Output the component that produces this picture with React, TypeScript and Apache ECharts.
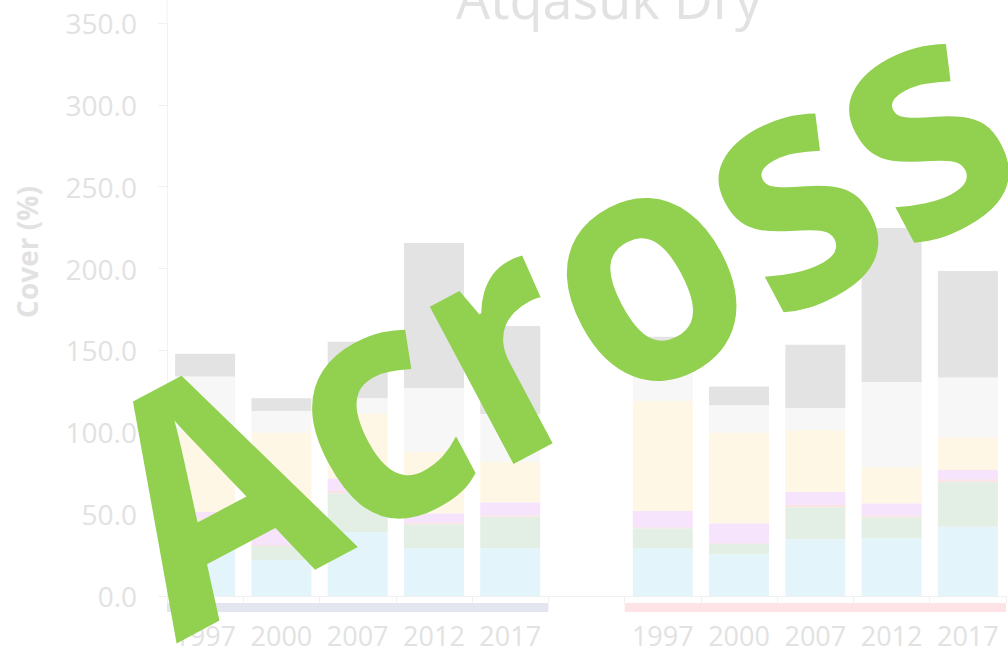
import React, { useEffect, useRef } from "react";
import * as echarts from "echarts";

const categories = ["1997", "2000", "2007", "2012", "2017", "", "1997", "2000", "2007", "2012", "2017"];

const seriesNames = ["Graminoid", "Forb", "Deciduous Shrub", "Evergreen Shrub", "Moss", "Lichen", "Litter"];
const blueVals = [30, 22, 38.9, 29.1, 29.1, null, 29.1, 25.5, 34.6, 35.2, 42.3];
const greenVals = [16.5, 8.5, 23.8, 14.7, 19.3, null, 12.3, 6.2, 19.6, 12.9, 27.5];
const redVals = [1, 0.7, 1.5, 1, 1, null, 0.6, 0.5, 1.4, 1, 1.5];
const pinkVals = [4, 12.6, 7.7, 5.7, 7.8, null, 9.9, 12.2, 7.9, 7.5, 5.7];
const yellowVals = [48.5, 56, 39.7, 37.5, 24.8, null, 67.4, 55.4, 37.9, 22, 19.9];
const lightGrayVals = [34, 13.2, 9.2, 39, 29.2, null, 18, 16.7, 13.4, 52.1, 36.5];
const grayVals = [14, 7.8, 34.5, 88.6, 53.7, null, 21, 11.4, 38.7, 94.1, 65.1];

const allVals = [blueVals, greenVals, redVals, pinkVals, yellowVals, lightGrayVals, grayVals];
const colors = ["#e3f4fb", "#e3efe4", "#fce3e3", "#f6e4fc", "#fef7e6", "#f7f7f7", "#e3e3e3"];

const groups = [
  { from: 0, to: 4, color: "#e3e6ee" },
  { from: 6, to: 10, color: "#fde3e5" },
];

const TEXT = "#e2e2e2";

export default function App() {
  const ref = useRef<HTMLDivElement>(null);
  useEffect(() => {
    if (!ref.current) return;
    const chart = echarts.init(ref.current, null, { renderer: "svg" });
    const option: any = {
      animation: false,
      grid: { left: 167, right: 2, top: 23, bottom: 57, containLabel: false },
      xAxis: {
        type: "category",
        data: categories,
        axisLine: { lineStyle: { color: "#f0f0f0", width: 1 } },
        axisTick: { show: true, interval: 0, length: 7, lineStyle: { color: "#f0f0f0" } },
        axisLabel: {
          interval: 0,
          color: TEXT,
          fontSize: 27,
          fontFamily: "Open Sans",
          margin: 26,
        },
      },
      yAxis: {
        type: "value",
        min: 0,
        max: 350,
        interval: 50,
        axisLine: { show: true, lineStyle: { color: "#f2f2f2" } },
        axisTick: { show: true, length: 9, lineStyle: { color: "#f0f0f0" } },
        splitLine: { show: false },
        axisLabel: {
          color: TEXT,
          fontSize: 28,
          fontFamily: "Open Sans",
          margin: 30,
          formatter: (v: number) => v.toFixed(1),
        },
      },
      series: allVals.map((vals, i) => ({
        name: seriesNames[i],
        type: "bar",
        stack: "total",
        barWidth: 60,
        data: vals,
        itemStyle: { color: colors[i] },
      })),
    };
    chart.setOption(option);

    const x0c = chart.convertToPixel({ xAxisIndex: 0 }, 0) as number;
    const x1c = chart.convertToPixel({ xAxisIndex: 0 }, 1) as number;
    const step = x1c - x0c;
    const bandRects = groups.map((g) => {
      const a = (chart.convertToPixel({ xAxisIndex: 0 }, g.from) as number) - step / 2;
      const b = (chart.convertToPixel({ xAxisIndex: 0 }, g.to) as number) + step / 2;
      return {
        type: "rect",
        shape: { x: a, y: 603, width: b - a, height: 9 },
        style: { fill: g.color },
        silent: true,
      };
    });

    chart.setOption({
      graphic: [
        ...bandRects,
        {
          type: "line",
          shape: { x1: 167, y1: 0, x2: 167, y2: 23 },
          style: { stroke: "#f2f2f2", lineWidth: 1 },
          silent: true,
        },
        {
          type: "text",
          x: 27,
          y: 252,
          rotation: Math.PI / 2,
          style: {
            text: "Cover (%)",
            fill: TEXT,
            fontSize: 28,
            fontWeight: "bold",
            fontFamily: "Open Sans",
            textAlign: "center",
            textVerticalAlign: "middle",
          },
        },
        {
          type: "text",
          x: 609,
          y: -2,
          style: {
            text: "Atqasuk Dry",
            fill: TEXT,
            fontSize: 54,
            fontFamily: "Open Sans",
            textAlign: "center",
            textVerticalAlign: "middle",
          },
        },
        {
          type: "text",
          x: 547,
          y: 303,
          rotation: (28 * Math.PI) / 180,
          scaleX: 0.93,
          scaleY: 1.02,
          z: 100,
          style: {
            text: "Across",
            fill: "#92d050",
            fontSize: 320,
            fontWeight: "bold",
            fontFamily: "Open Sans",
            textAlign: "center",
            textVerticalAlign: "middle",
          },
        },
      ],
    });
    return () => chart.dispose();
  }, []);
  return <div ref={ref} style={{ position: "absolute", left: 0, top: 0, width: 1008, height: 653 }} />;
}
